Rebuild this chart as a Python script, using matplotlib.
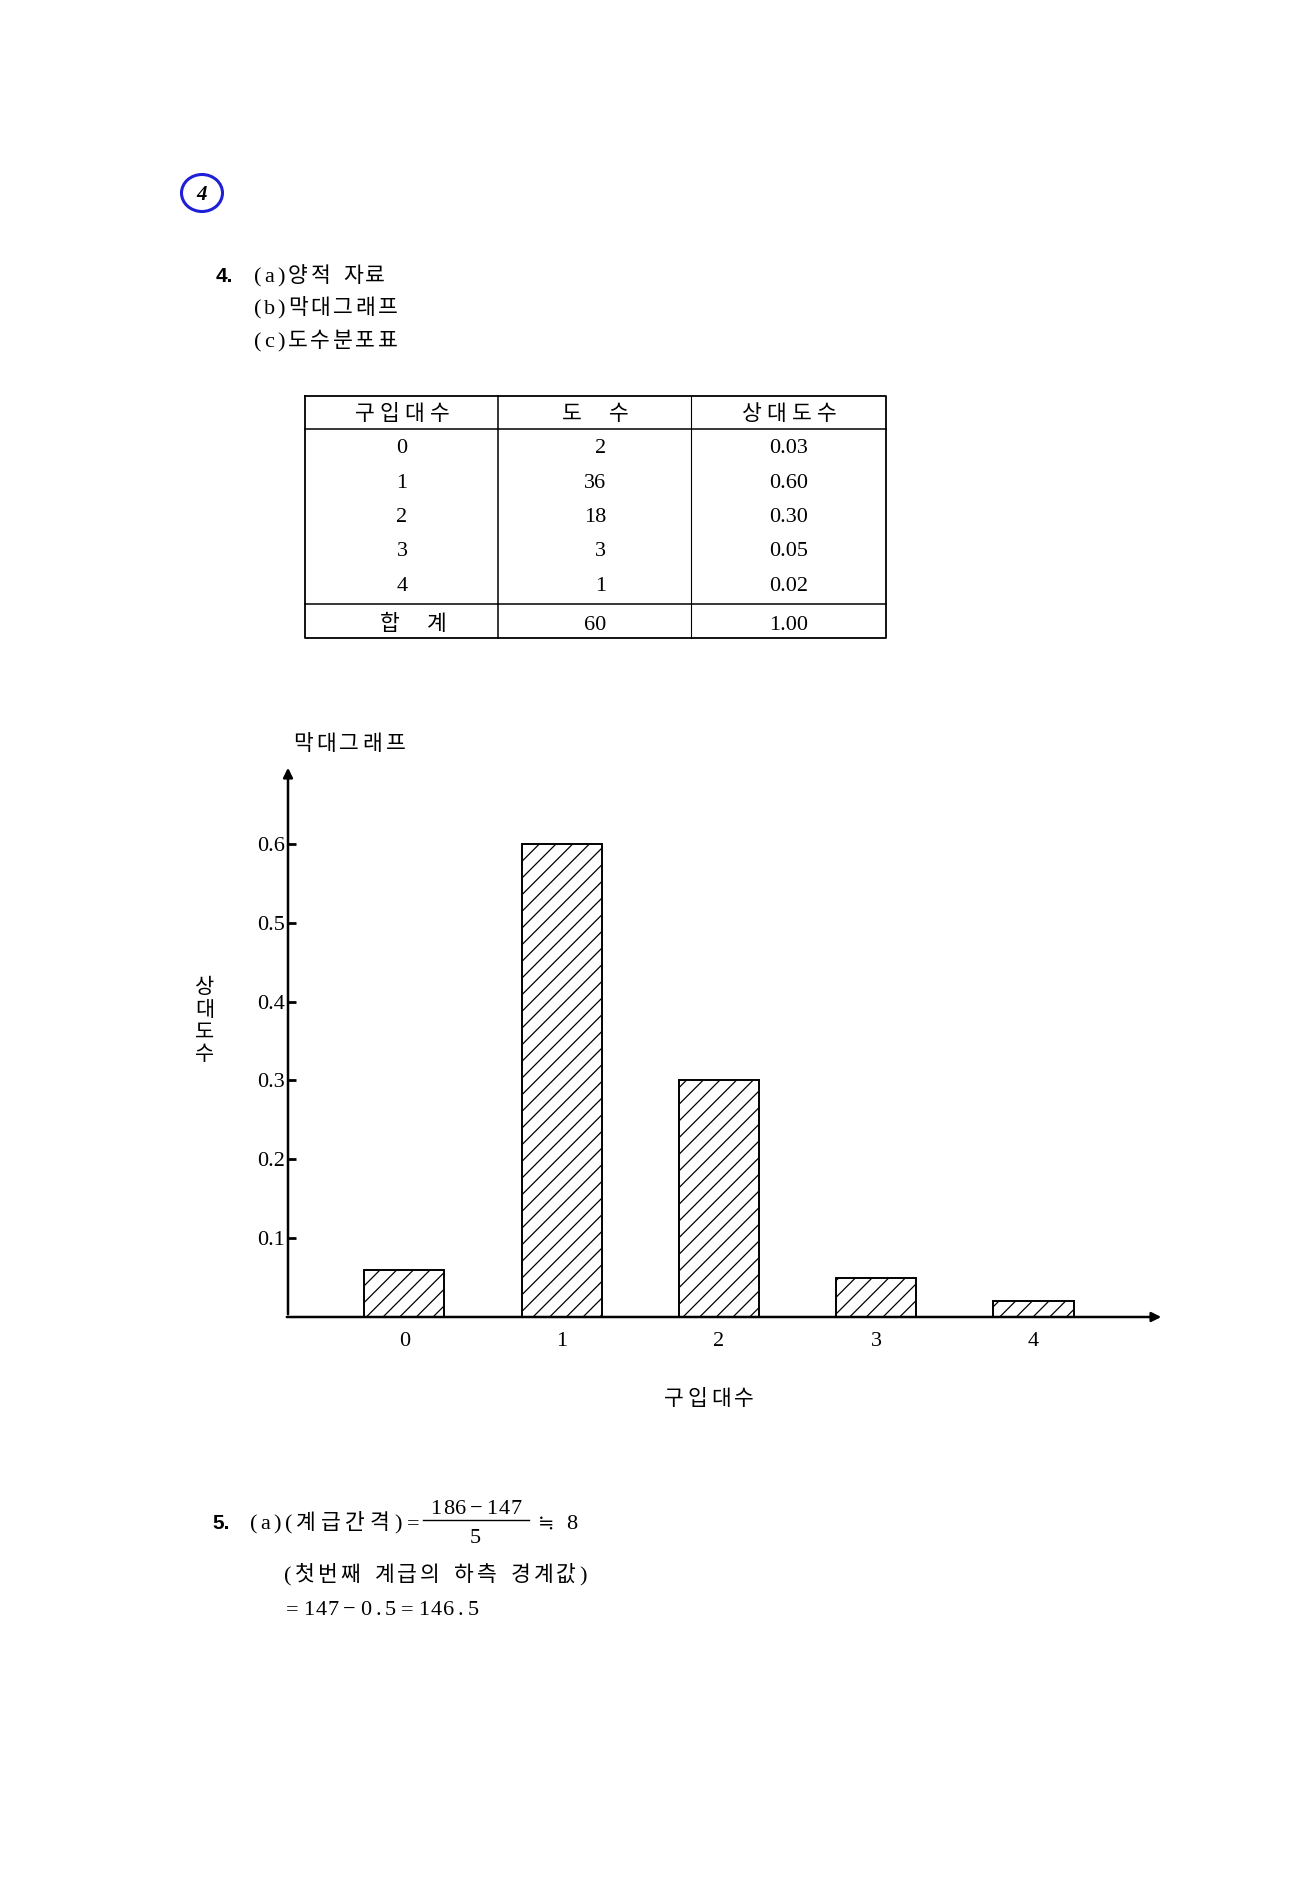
import matplotlib.pyplot as plt
from matplotlib.patches import Ellipse

# data
counts = [0, 1, 2, 3, 4]
freq = [2, 36, 18, 3, 1]
rel_freq = ['0.03', '0.60', '0.30', '0.05', '0.02']
total_freq = '60'
total_rel = '1.00'
bar_heights = [0.06, 0.60, 0.30, 0.05, 0.02]   # as drawn in the bar chart
yticks = [0.1, 0.2, 0.3, 0.4, 0.5, 0.6]

W, H = 1298, 1897
HANGUL = 'Noto Sans CJK KR'
SERIF = 'Liberation Serif'
plt.rcParams['hatch.linewidth'] = 0.9

fig = plt.figure(figsize=(W / 100, H / 100), dpi=100)

# page overlay in pixel coordinates
pg = fig.add_axes([0, 0, 1, 1])
pg.set_xlim(0, W)
pg.set_ylim(H, 0)
pg.axis('off')


def kt(x, y, s, h=22.0, d=11.5, op=20.0, sp=10.0, ha='left', size=15.5, dsize=16):
    """Korean text set char by char (old typewriter-like spacing), y = baseline."""
    adv = []
    for ch in s:
        if ord(ch) >= 0xAC00:
            adv.append(h)
        elif ch == ' ':
            adv.append(sp)
        elif ch in '=−≒':
            adv.append(op)
        else:
            adv.append(d)
    x0 = x - sum(adv) / 2 if ha == 'center' else x
    for ch, a in zip(s, adv):
        if ch != ' ':
            if ord(ch) >= 0xAC00:
                fam, fs = HANGUL, size
            elif ch == '≒':
                fam, fs = 'DejaVu Serif', dsize - 2
            else:
                fam, fs = SERIF, dsize
            pg.text(x0 + a / 2, y, ch, family=fam, fontsize=fs, ha='center', va='baseline')
        x0 += a


pg.add_patch(Ellipse((202, 193), 41, 37, fill=False, edgecolor='#1f1fd8', lw=2.2))
pg.text(202, 200, '4', fontsize=15, style='italic', fontweight='bold',
        family=SERIF, ha='center', va='baseline')

pg.text(216, 282, '4.', fontsize=15, fontweight='bold', family='Liberation Sans',
        ha='left', va='baseline')
kt(252, 282, '(a)양적 자료', h=22.5)
kt(252, 314, '(b)막대그래프', h=22.5)
kt(252, 347, '(c)도수분포표', h=22.5)

# frequency table
tx0, tx1 = 305, 886
ty0, ty1 = 396, 638
pg.plot([tx0, tx1, tx1, tx0, tx0], [ty0, ty0, ty1, ty1, ty0], color='black', lw=1.3)
pg.plot([tx0, tx1], [429, 429], color='black', lw=1.1)
pg.plot([tx0, tx1], [604, 604], color='black', lw=1.1)
pg.plot([498, 498], [ty0, ty1], color='black', lw=1.1)
pg.plot([691, 691], [ty0, ty1], color='black', lw=0.8)

kt(402, 420, '구입대수', h=25, ha='center')
kt(595, 420, '도 수', h=25, sp=22, ha='center')
kt(789, 420, '상대도수', h=25, ha='center')
row_base = [453, 488, 522, 556, 591]
for yy, c, f, r in zip(row_base, counts, freq, rel_freq):
    pg.text(402, yy, str(c), fontsize=16, family=SERIF, ha='center', va='baseline')
    pg.text(606, yy, str(f), fontsize=16, family=SERIF, ha='right', va='baseline')
    pg.text(789, yy, r, fontsize=16, family=SERIF, ha='center', va='baseline')
kt(413, 630, '합 계', h=25, sp=22, ha='center')
pg.text(606, 630, total_freq, fontsize=16, family=SERIF, ha='right', va='baseline')
pg.text(789, 630, total_rel, fontsize=16, family=SERIF, ha='center', va='baseline')

# chart labels
kt(291, 750, '막대그래프', h=23.3)
for i, ch in enumerate('상대도수'):
    pg.text(205, 993 + 22.5 * i, ch, family=HANGUL, fontsize=15, ha='center', va='baseline')
kt(709, 1405, '구입대수', h=23.3, ha='center')

# bottom text
pg.text(212, 1529, '5.', fontsize=15, fontweight='bold', family='Liberation Sans',
        ha='left', va='baseline')
kt(248, 1529, '(a)(계급간격)=', h=24.5, d=11.5)
kt(476, 1514, '186−147', d=12.5, op=18, ha='center')
pg.plot([423, 529], [1520, 1520], color='black', lw=1)
pg.text(475, 1543, '5', fontsize=16, family=SERIF, ha='center', va='baseline')
kt(536, 1529, '≒ 8', d=12, sp=10)
kt(282, 1581, '(첫번째 계급의 하측 경계값)', h=22.5, d=11.7, sp=12)
kt(282, 1615, '=147−0.5=146.5', d=12.5, op=20)

# bar chart
ax = fig.add_axes([288 / W, 1 - 1317 / H, 876 / W, 552 / H])
ax.set_xlim(-0.74, 4.83)
ax.set_ylim(0, 0.70)
ax.patch.set_alpha(0)
for s in ax.spines.values():
    s.set_visible(False)

ax.bar(counts, bar_heights, width=0.51, color='white', edgecolor='black',
       hatch='//', linewidth=1.4, zorder=2)

arrow = dict(arrowstyle='-|>', color='black', lw=1.8, mutation_scale=14)
ax.annotate('', xy=(4.83, 0), xytext=(-0.765, 0), arrowprops=arrow,
            annotation_clip=False, zorder=3)
ax.annotate('', xy=(-0.74, 0.70), xytext=(-0.74, 0), arrowprops=arrow,
            annotation_clip=False, zorder=3)

ax.set_xticks(counts)
ax.set_xticklabels([str(c) for c in counts], family=SERIF, fontsize=16)
ax.tick_params(axis='x', length=0, pad=11)
ax.set_yticks(yticks)
ax.set_yticklabels([f'{v:.1f}' for v in yticks], family=SERIF, fontsize=16)
ax.tick_params(axis='y', direction='in', length=6, width=2, pad=2)

fig.savefig('out.png', dpi=100, facecolor='white')
